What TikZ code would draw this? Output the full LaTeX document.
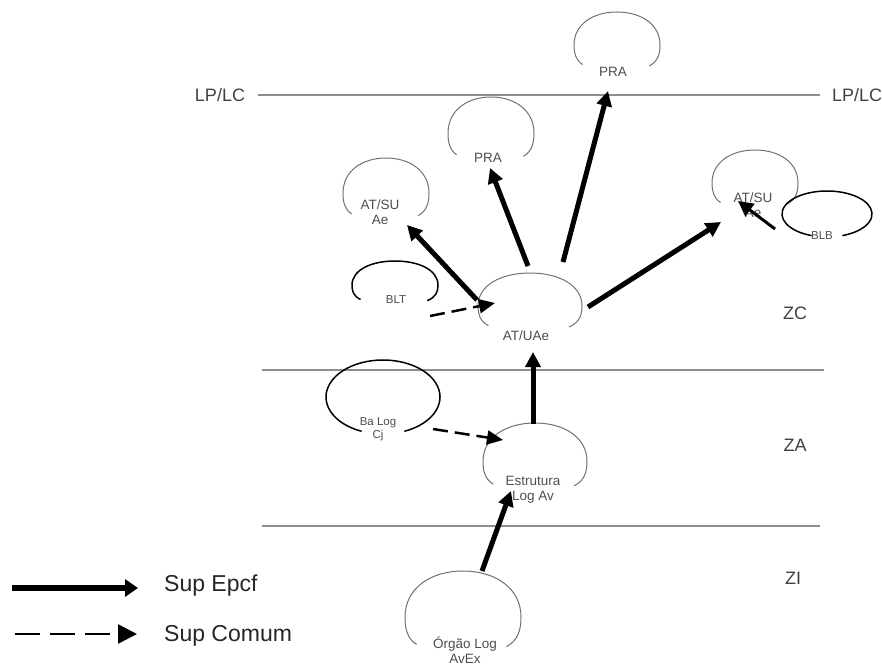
\documentclass[tikz,border=0pt]{standalone}
\usepackage{fontspec}
\setmainfont{Liberation Sans}
\definecolor{loafedge}{HTML}{707070}
\definecolor{zoneline}{HTML}{8E8E8E}
\definecolor{loaftext}{HTML}{4E4E4E}
\usetikzlibrary{arrows.meta}

\begin{document}
\begin{tikzpicture}[
  x=1pt,
  y=1pt,
  line join=round,
  loaf/.pic={
    \draw[pic actions] (-0.8,-0.75) .. controls (-0.97,-0.6) and (-1,-0.35) .. (-1,-0.1)
      .. controls (-1,0.6) and (-0.55,1) .. (0,1)
      .. controls (0.55,1) and (1,0.6) .. (1,-0.1)
      .. controls (1,-0.4) and (0.95,-0.65) .. (0.75,-0.8);
  },
  blobgray/.style={draw=loafedge,line width=1pt},
  blobdark/.style={draw=black,line width=1.5pt},
  zone/.style={draw=zoneline,line width=1.2pt},
  tag/.style={text=loaftext,font=\fontsize{13.5}{14.5}\selectfont,align=center,inner sep=0pt},
  smalltag/.style={tag,font=\fontsize{11.5}{13}\selectfont},
  zonetag/.style={text=black!75,font=\fontsize{18}{20}\selectfont,inner sep=0pt},
  legendtext/.style={text=black!85,font=\fontsize{23}{26}\selectfont,anchor=west,inner sep=0pt},
  epcf/.style={line width=5pt,-{Triangle[length=15pt,width=15pt]}},
  comum/.style={line width=2.5pt,dash pattern=on 15pt off 7pt,-{Triangle[length=16pt,width=14pt]}}
]
  \useasboundingbox (0,0) rectangle (882,-668);

  % Level lines between the zones.
  \coordinate (lpw) at (258,-95);  \coordinate (lpe) at (820,-95);
  \coordinate (zcw) at (262,-370); \coordinate (zce) at (824,-370);
  \coordinate (zaw) at (262,-526); \coordinate (zae) at (820,-526);
  \draw[zone] (lpw) -- (lpe);
  \draw[zone] (zcw) -- (zce);
  \draw[zone] (zaw) -- (zae);

  \node[zonetag] (lpleft) at (220,-95) {LP/LC};
  \node[zonetag] (lpright) at (857,-95) {LP/LC};
  \node[zonetag] (zc) at (795,-313) {ZC};
  \node[zonetag] (za) at (795,-445) {ZA};
  \node[zonetag] (zi) at (793,-578) {ZI};

  % Loaf outlines, left open at the bottom for their labels.
  \coordinate (pratop) at (617,-42);
  \coordinate (pramid) at (491,-130);
  \coordinate (atsuae) at (386,-190);
  \coordinate (atsu) at (755,-180);
  \coordinate (atuae) at (530,-303);
  \coordinate (estrutura) at (535,-458);
  \coordinate (orgao) at (463,-613);
  \coordinate (blt) at (395,-283);
  \coordinate (blb) at (827,-214);
  \coordinate (ba) at (383,-397);

  \foreach \c/\w/\h in {pratop/43/30,pramid/43/33,atsuae/43/32,atsu/43/30,
                        atuae/52/30,estrutura/52/35,orgao/58/42}
    \pic[blobgray,x=\w pt,y=\h pt] at (\c) {loaf};

  \pic[blobdark,x=43pt,y=22pt] at (blt) {loaf};
  \draw[blobdark] (blb) ++(250:45pt and 23pt) arc[start angle=250,end angle=-70,x radius=45pt,y radius=23pt];
  \draw[blobdark] (ba) ++(248:57pt and 37pt) arc[start angle=248,end angle=-68,x radius=57pt,y radius=37pt];

  \node[tag] (pratoptag) at (613,-72) {PRA};
  \node[tag] (pramidtag) at (488,-158) {PRA};
  \node[tag] (atsuaetag) at (380,-212) {AT/SU\\Ae};
  \node[tag] (atsutag) at (753,-205) {AT/SU\\Ae};
  \node[tag] (atuaetag) at (526,-336) {AT/UAe};
  \node[tag] (estruturatag) at (533,-490) {Estrutura\\Log Av};
  \node[tag] (orgaotag) at (465,-650) {Órgão Log\\AvEx};
  \node[smalltag] (blttag) at (396,-300) {BLT};
  \node[smalltag] (blbtag) at (822,-236) {BLB};
  \node[smalltag] (batag) at (378,-429) {Ba Log\\Cj};

  % Arrow ends on the loaves.
  \coordinate (orgao-out) at (482,-571);   \coordinate (estrutura-in) at (511,-491);
  \coordinate (estrutura-out) at (533,-424); \coordinate (atuae-in) at (533,-352);
  \coordinate (atuae-w) at (477,-300);     \coordinate (atsuae-in) at (407,-225);
  \coordinate (atuae-n1) at (528,-266);    \coordinate (pramid-in) at (490,-168);
  \coordinate (atuae-n2) at (563,-262);    \coordinate (pratop-in) at (608,-91);
  \coordinate (atuae-e) at (588,-307);     \coordinate (atsu-in) at (721,-222);
  \coordinate (blb-out) at (775,-229);     \coordinate (atsu-in2) at (738,-201);
  \coordinate (blt-out) at (430,-316);     \coordinate (atuae-in2) at (495,-303);
  \coordinate (ba-out) at (433,-429);      \coordinate (estrutura-in2) at (503,-440);

  \draw[epcf] (orgao-out) -- (estrutura-in);
  \draw[epcf] (estrutura-out) -- (atuae-in);
  \draw[epcf] (atuae-w) -- (atsuae-in);
  \draw[epcf] (atuae-n1) -- (pramid-in);
  \draw[epcf] (atuae-n2) -- (pratop-in);
  \draw[epcf] (atuae-e) -- (atsu-in);
  \draw[epcf,line width=3pt] (blb-out) -- (atsu-in2);
  \draw[comum] (blt-out) -- (atuae-in2);
  \draw[comum] (ba-out) -- (estrutura-in2);

  % Legend.
  \coordinate (epcf-a) at (12,-588);  \coordinate (epcf-b) at (138,-588);
  \coordinate (comum-a) at (15,-634); \coordinate (comum-b) at (137,-634);
  \draw[epcf,line width=6pt,-{Triangle[length=13pt,width=17pt]}] (epcf-a) -- (epcf-b);
  \draw[comum,dash pattern=on 25pt off 10pt,-{Triangle[length=19pt,width=19pt]}] (comum-a) -- (comum-b);
  \node[legendtext] (epcftag) at (164,-586) {Sup Epcf};
  \node[legendtext] (comumtag) at (164,-636) {Sup Comum};
\end{tikzpicture}
\end{document}
